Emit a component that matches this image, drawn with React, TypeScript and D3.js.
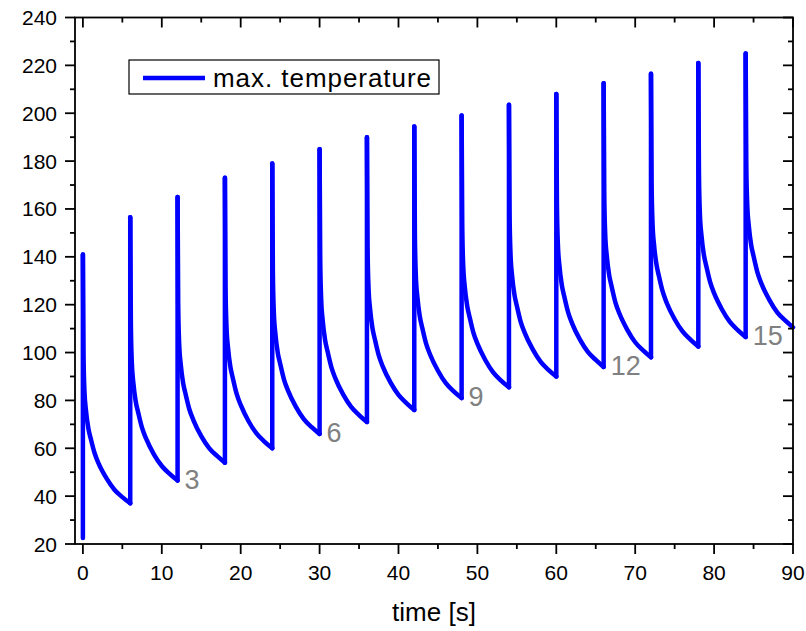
import React from "react";
import { scaleLinear, line, curveMonotoneX } from "d3";

// pulse start times [s]
const pulseStart = [0, 6, 12, 18, 24, 30, 36, 42, 48, 54, 60, 66, 72, 78, 84];
// sampling offsets inside one 6 s cycle [s]
const decayOffset = [0, 0.08, 0.2, 0.4, 0.7, 1, 1.5, 2, 3, 4, 5, 6];
// max. temperature read at each offset, one row per pulse
const decayTemp = [
  [141, 99.4, 83.8, 75.5, 68.2, 64.0, 57.8, 53.6, 47.4, 42.7, 39.6, 37],
  [156.5, 112.5, 96.0, 87.2, 79.5, 75.1, 68.5, 64.1, 57.5, 52.6, 49.3, 46.5],
  [165, 120.6, 104.0, 95.1, 87.3, 82.9, 76.2, 71.8, 65.1, 60.1, 56.8, 54],
  [173, 127.8, 110.9, 101.8, 93.9, 89.4, 82.6, 78.1, 71.3, 66.2, 62.8, 60],
  [179, 133.8, 116.9, 107.8, 99.9, 95.4, 88.6, 84.1, 77.3, 72.2, 68.8, 66],
  [185, 139.4, 122.3, 113.2, 105.2, 100.6, 93.8, 89.2, 82.4, 77.3, 73.9, 71],
  [190, 144.4, 127.3, 118.2, 110.2, 105.6, 98.8, 94.2, 87.4, 82.3, 78.9, 76],
  [194.5, 149.1, 132.1, 123.0, 115.1, 110.5, 103.7, 99.2, 92.4, 87.2, 83.8, 81],
  [199, 153.6, 136.6, 127.5, 119.6, 115.0, 108.2, 103.7, 96.9, 91.7, 88.3, 85.5],
  [203.5, 158.1, 141.1, 132.0, 124.1, 119.5, 112.7, 108.2, 101.4, 96.2, 92.8, 90],
  [208, 162.4, 145.3, 136.2, 128.2, 123.6, 116.8, 112.2, 105.4, 100.3, 96.9, 94],
  [212.5, 166.7, 149.5, 140.4, 132.4, 127.8, 120.9, 116.3, 109.5, 104.3, 100.9, 98],
  [216.5, 170.9, 153.8, 144.7, 136.7, 132.1, 125.3, 120.7, 113.9, 108.8, 105.4, 102.5],
  [221, 175.2, 158.0, 148.9, 140.9, 136.3, 129.4, 124.8, 118.0, 112.8, 109.4, 106.5],
  [225, 179.2, 162.0, 152.9, 144.9, 140.3, 133.4, 128.8, 122.0, 116.8, 113.4, 110.5],
];
const startTemp = 22.5;

// pulse counter labels, placed at the end of the given cycle
const counterLabels = ["3", "6", "9", "12", "15"];
const counterCycle = [1, 4, 7, 10, 13];

const xTicks = [0, 10, 20, 30, 40, 50, 60, 70, 80, 90];
const xMinor = [5, 15, 25, 35, 45, 55, 65, 75, 85];
const yTicks = [20, 40, 60, 80, 100, 120, 140, 160, 180, 200, 220, 240];
const yMinor = [30, 50, 70, 90, 110, 130, 150, 170, 190, 210, 230];

const FONT = "'Liberation Sans', Arial, sans-serif";
const BLUE = "#0000ff";

export default function App() {
  const left = 75, right = 793, top = 17.5, bottom = 544;
  const x = scaleLinear().domain([-1, 90]).range([left, right]);
  const y = scaleLinear().domain([20, 240]).range([bottom, top]);

  const decayLine = line<[number, number]>()
    .x(d => x(d[0]))
    .y(d => y(d[1]))
    .curve(curveMonotoneX);
  const jumpLine = line<[number, number]>()
    .x(d => x(d[0]))
    .y(d => y(d[1]));

  const last = decayOffset.length - 1;
  const cycles = pulseStart.map((t0, k) => {
    const pts: [number, number][] = decayOffset.map((o, j) => [t0 + o, decayTemp[k][j]]);
    const prev = k === 0 ? startTemp : decayTemp[k - 1][last];
    const jump: [number, number][] = [[t0, prev], [t0, decayTemp[k][0]]];
    return { pts, jump };
  });

  const sw = 1.8;

  return (
    <svg width={806} height={631} style={{ position: "absolute", left: 0, top: 0 }}
      fontFamily={FONT}>
      <rect width={806} height={631} fill="#fff" />

      {/* data */}
      <g fill="none" stroke={BLUE} strokeWidth={4.5} strokeLinejoin="round" strokeLinecap="round">
        {cycles.map((c, i) => (
          <g key={i}>
            <path d={jumpLine(c.jump) || ""} />
            <path d={decayLine(c.pts) || ""} />
          </g>
        ))}
      </g>

      {/* counters */}
      {counterLabels.map((lab, i) => {
        const k = counterCycle[i];
        const t = pulseStart[k] + decayOffset[last];
        const v = decayTemp[k][last];
        return (
          <text key={lab} x={x(t) + 7} y={y(v) + 8} fontSize={27} fill="#808080">{lab}</text>
        );
      })}

      {/* frame */}
      <rect x={left} y={top} width={right - left} height={bottom - top} fill="none"
        stroke="#000" strokeWidth={sw} />

      {/* ticks */}
      <g stroke="#000" strokeWidth={sw}>
        {xTicks.map(t => (
          <g key={"xt" + t}>
            <line x1={x(t)} x2={x(t)} y1={bottom} y2={bottom + 10} />
            <line x1={x(t)} x2={x(t)} y1={top} y2={top + 10} />
          </g>
        ))}
        {xMinor.map(t => (
          <g key={"xm" + t}>
            <line x1={x(t)} x2={x(t)} y1={bottom} y2={bottom + 5} />
            <line x1={x(t)} x2={x(t)} y1={top} y2={top + 5} />
          </g>
        ))}
        {yTicks.map(t => (
          <g key={"yt" + t}>
            <line x1={left - 10} x2={left} y1={y(t)} y2={y(t)} />
            <line x1={right - 10} x2={right} y1={y(t)} y2={y(t)} />
          </g>
        ))}
        {yMinor.map(t => (
          <g key={"ym" + t}>
            <line x1={left - 5} x2={left} y1={y(t)} y2={y(t)} />
            <line x1={right - 5} x2={right} y1={y(t)} y2={y(t)} />
          </g>
        ))}
      </g>

      {/* tick labels */}
      <g fontSize={21} fill="#000">
        {xTicks.map(t => (
          <text key={"xl" + t} x={x(t)} y={580} textAnchor="middle">{t}</text>
        ))}
        {yTicks.map(t => (
          <text key={"yl" + t} x={57} y={y(t)} textAnchor="end" dominantBaseline="central">{t}</text>
        ))}
      </g>

      <text x={(left + right) / 2} y={621} textAnchor="middle" fontSize={26}>time [s]</text>

      {/* legend */}
      <rect x={129} y={60} width={310} height={34} fill="#fff" stroke="#000" strokeWidth={1.2} />
      <line x1={143} x2={205} y1={78} y2={78} stroke={BLUE} strokeWidth={4.5} />
      <text x={213} y={87} fontSize={26} textLength={218} lengthAdjust="spacing">max. temperature</text>
    </svg>
  );
}
